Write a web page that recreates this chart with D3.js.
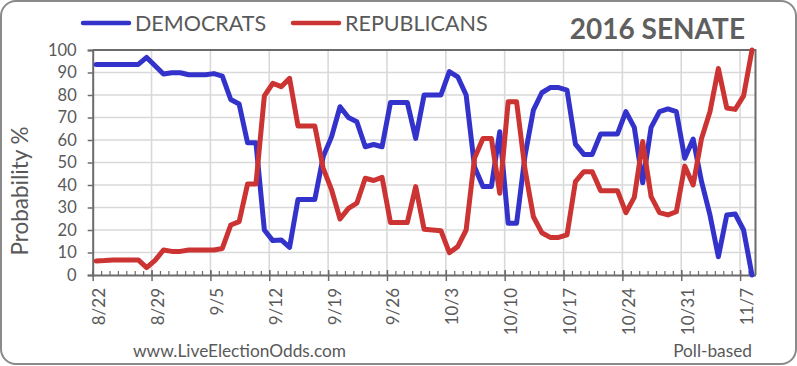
<!DOCTYPE html>
<html><head><meta charset="utf-8">
<script src="https://cdn.jsdelivr.net/npm/d3@7"></script>
<style>body{margin:0;background:#fff} svg{display:block}</style>
</head><body><svg id="c" width="797" height="366"></svg>
<script>
// ---- data ----
const dates = [
 "2016-08-22","2016-08-23","2016-08-24","2016-08-25","2016-08-26","2016-08-27","2016-08-28","2016-08-29","2016-08-30","2016-08-31",
 "2016-09-01","2016-09-02","2016-09-03","2016-09-04","2016-09-05","2016-09-06","2016-09-07","2016-09-08","2016-09-09","2016-09-10",
 "2016-09-11","2016-09-12","2016-09-13","2016-09-14","2016-09-15","2016-09-16","2016-09-17","2016-09-18","2016-09-19","2016-09-20",
 "2016-09-21","2016-09-22","2016-09-23","2016-09-24","2016-09-25","2016-09-26","2016-09-27","2016-09-28","2016-09-29","2016-09-30",
 "2016-10-01","2016-10-02","2016-10-03","2016-10-04","2016-10-05","2016-10-06","2016-10-07","2016-10-08","2016-10-09","2016-10-10",
 "2016-10-11","2016-10-12","2016-10-13","2016-10-14","2016-10-15","2016-10-16","2016-10-17","2016-10-18","2016-10-19","2016-10-20",
 "2016-10-21","2016-10-22","2016-10-23","2016-10-24","2016-10-25","2016-10-26","2016-10-27","2016-10-28","2016-10-29","2016-10-30",
 "2016-10-31","2016-11-01","2016-11-02","2016-11-03","2016-11-04","2016-11-05","2016-11-06","2016-11-07","2016-11-08"];
const democrats = [
 93.6,93.6,93.6,93.6,93.6,93.6,96.7,93,89.3,89.9,
 89.9,89,89,89,89.5,88.4,78,76,58.8,58.8,
 20,15.3,15.6,12.3,33.6,33.6,33.6,52.6,61.5,74.8,
 70,68.1,57,58,57,76.7,76.7,76.7,60.7,80,
 80,80,90.4,88.1,80,48,39.3,39.3,63.7,23,
 23,53,73.3,81,83.3,83.3,82.2,58.2,53.6,53.6,
 62.7,62.7,62.7,72.6,65.6,41,65.6,72.6,73.8,72.6,
 51.9,60.4,41.5,26.7,8.1,26.7,27.1,20,0];
const republicans = [
 6.2,6.4,6.7,6.7,6.7,6.7,3.3,6.5,11.1,10.5,
 10.5,11.1,11.1,11.1,11.1,11.8,22.2,23.7,40.4,40.4,
 79.6,85.2,83.7,87.4,66.2,66.2,66.2,47.4,37.8,24.9,
 29.6,31.9,43,42,43.4,23.3,23.3,23.3,39.3,20.3,
 20,19.7,9.9,12.6,20,52,60.7,60.7,36.3,77,
 77,47,25.9,18.8,16.7,16.7,17.8,41.5,45.9,45.9,
 37.5,37.5,37.5,27.7,34.5,59.3,34.8,27.7,26.7,28.1,
 48.4,40,60.7,72.6,91.8,74.2,73.6,79.6,100];
const seriesNames = ["DEMOCRATS","REPUBLICANS"];
const seriesColors = ["#3333cc","#cc3333"];
const yTicks = [0,10,20,30,40,50,60,70,80,90,100];
const xTickLabels = ["8/22","8/29","9/5","9/12","9/19","9/26","10/3","10/10","10/17","10/24","10/31","11/7"];
const chartTitle = "2016 SENATE";
const yLabel = "Probability %";
const footerLeft = "www.LiveElectionOdds.com";
const footerRight = "Poll-based";

// ---- layout ----
const FONT = "Lato, 'Liberation Sans', sans-serif";
const TXT = "#595959";
const AX = "#6b6b6b";
const svg = d3.select("#c");
const pLeft = 92.7, pRight = 755.5, pTop = 50, pBottom = 275;
const parseDay = d3.timeParse("%Y-%m-%d");
const sampleHour = 10;
const pts = dates.map(d => d3.timeHour.offset(parseDay(d), sampleHour));
const x = d3.scaleTime()
  .domain([parseDay("2016-08-22"), d3.timeHour.offset(parseDay("2016-11-08"), 20)])
  .range([pLeft, pRight]);
const y = d3.scaleLinear().domain([0, 100]).range([pBottom, pTop]);
const majorDates = xTickLabels.map(s => { const [m, d] = s.split("/"); return new Date(2016, +m - 1, +d); });

// outer frame
svg.append("rect").attr("x", 1).attr("y", 1).attr("width", 795).attr("height", 363)
  .attr("rx", 15).attr("ry", 15).attr("fill", "#fff").attr("stroke", "#8a8a8a").attr("stroke-width", 2);

// gridlines
svg.append("g").selectAll("line").data(yTicks.filter(v => v > 0 && v < 100)).join("line")
  .attr("x1", pLeft).attr("x2", pRight).attr("y1", d => y(d)).attr("y2", d => y(d))
  .attr("stroke", "#d9d9d9").attr("stroke-width", 1.6);
svg.append("g").selectAll("line").data(majorDates.slice(1)).join("line")
  .attr("x1", d => x(d)).attr("x2", d => x(d)).attr("y1", pTop).attr("y2", pBottom)
  .attr("stroke", "#d9d9d9").attr("stroke-width", 1.6);

// plot frame (top & right)
svg.append("path").attr("d", `M${pLeft},${pTop}H${pRight}V${pBottom}`)
  .attr("fill", "none").attr("stroke", AX).attr("stroke-width", 2);

// y axis
const yAxis = svg.append("g").attr("transform", `translate(${pLeft},0)`)
  .call(d3.axisLeft(y).tickValues(yTicks).tickSize(5).tickPadding(11));
yAxis.select(".domain").attr("stroke", AX).attr("stroke-width", 2);
yAxis.selectAll(".tick line").attr("stroke", AX).attr("stroke-width", 1.5);
yAxis.selectAll(".tick text").attr("fill", TXT).style("font-family", FONT).style("font-size", "16.5px");

// x axis minor (daily, inside)
const minor = svg.append("g").attr("transform", `translate(0,${pBottom})`)
  .call(d3.axisBottom(x).ticks(d3.timeDay.every(1)).tickSize(-4).tickFormat(""));
minor.select(".domain").remove();
minor.selectAll(".tick line").attr("stroke", AX).attr("stroke-width", 1.2);
// x axis major
const xAxis = svg.append("g").attr("transform", `translate(0,${pBottom})`)
  .call(d3.axisBottom(x).tickValues(majorDates).tickSizeInner(6).tickSizeOuter(0).tickFormat((d, i) => xTickLabels[i]));
xAxis.select(".domain").attr("stroke", AX).attr("stroke-width", 2);
xAxis.selectAll(".tick line").attr("stroke", AX).attr("stroke-width", 1.5).attr("y1", -5);
xAxis.selectAll(".tick text")
  .attr("fill", TXT).style("font-family", FONT).style("font-size", "17px")
  .attr("text-anchor", "end").attr("dy", null).attr("y", null)
  .attr("transform", "translate(12,13) rotate(-90)");

// lines
const line = d3.line().x((d, i) => x(pts[i])).y(d => y(d));
[democrats, republicans].forEach((vals, k) => {
  svg.append("path").datum(vals).attr("d", line)
    .attr("fill", "none").attr("stroke", seriesColors[k]).attr("stroke-width", 5)
    .attr("stroke-linejoin", "round").attr("stroke-linecap", "round");
});

// legend
const legendX = [83, 293];
seriesNames.forEach((n, k) => {
  svg.append("line").attr("x1", legendX[k]).attr("x2", legendX[k] + 46).attr("y1", 23).attr("y2", 23)
    .attr("stroke", seriesColors[k]).attr("stroke-width", 4.5).attr("stroke-linecap", "round");
  svg.append("text").attr("x", legendX[k] + 52).attr("y", 31).text(n)
    .attr("fill", TXT).style("font-family", FONT).style("font-size", "21.5px");
});

// title
svg.append("text").attr("x", 745).attr("y", 39).attr("text-anchor", "end").text(chartTitle)
  .attr("fill", "#5f5f5f").style("font-family", FONT).style("font-size", "28px").style("font-weight", "bold");

// y label
svg.append("text").attr("transform", "translate(28,191) rotate(-90)").attr("text-anchor", "middle").text(yLabel)
  .attr("fill", TXT).style("font-family", FONT).style("font-size", "22.5px");

// footer
svg.append("text").attr("x", 133).attr("y", 357).text(footerLeft)
  .attr("fill", TXT).style("font-family", FONT).style("font-size", "17.3px");
svg.append("text").attr("x", 752).attr("y", 357).attr("text-anchor", "end").text(footerRight)
  .attr("fill", TXT).style("font-family", FONT).style("font-size", "17.3px");
</script></body></html>
